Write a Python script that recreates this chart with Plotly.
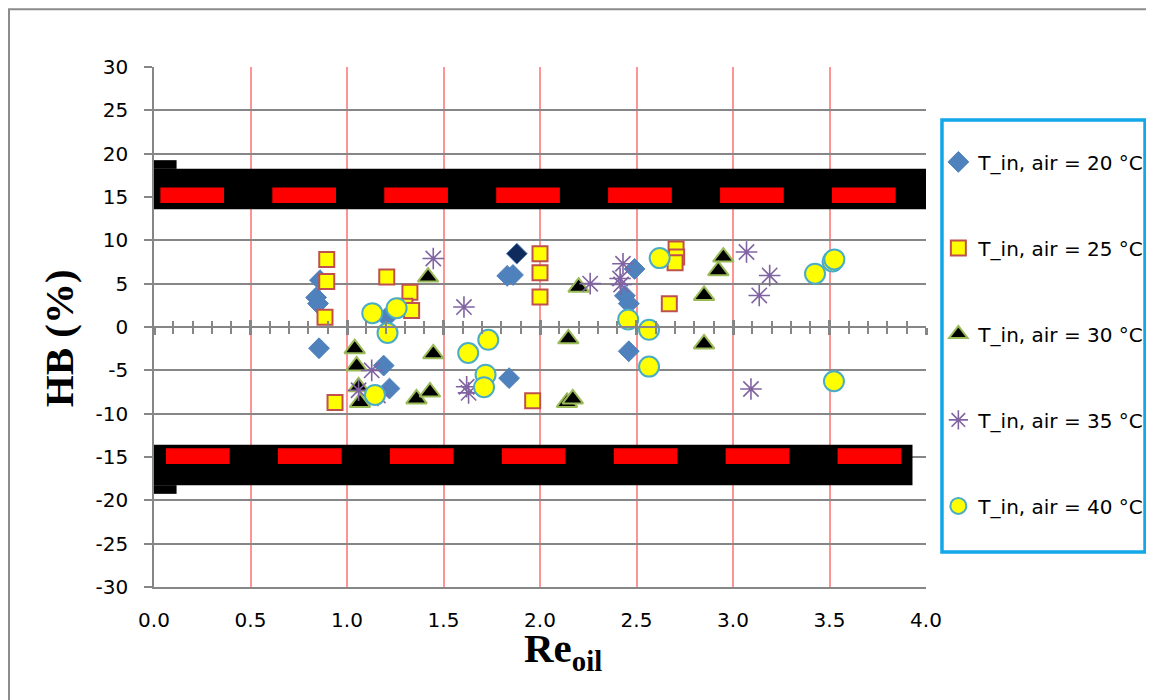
import plotly.graph_objects as go

# ---------------- data ----------------
re_20 = [0.86, 0.84, 0.85, 0.855, 1.205, 1.19, 1.22, 1.88, 1.83, 1.86, 1.84, 2.49, 2.44, 2.46, 2.46]
hb_20 = [5.4, 3.4, 2.7, -2.45, 1.1, -4.45, -7.1, 8.46, 5.9, 6.0, -5.9, 6.7, 3.6, 2.7, -2.8]

re_25 = [0.895, 0.895, 0.886, 0.938, 1.206, 1.326, 1.30, 1.335, 2.0, 2.0, 2.0, 1.962, 2.705, 2.708, 2.70, 2.67]
hb_25 = [7.8, 5.26, 1.13, -8.7, 5.76, 4.0, 2.4, 1.9, 8.46, 6.26, 3.45, -8.5, 9.0, 8.07, 7.4, 2.68]

re_30 = [1.04, 1.05, 1.06, 1.067, 1.42, 1.447, 1.36, 1.43, 2.20, 2.147, 2.14, 2.17, 2.95, 2.924, 2.85, 2.85]
hb_30 = [-2.5, -4.5, -6.9, -8.7, 5.76, -3.1, -8.3, -7.5, 4.6, -1.36, -8.7, -8.3, 8.07, 6.5, 3.64, -1.95]

re_35 = [1.447, 1.128, 1.06, 1.16, 1.606, 1.62, 1.63, 2.26, 2.43, 2.415, 2.42, 3.07, 3.19, 3.136, 3.093]
hb_35 = [7.9, -5.0, -7.3, -7.9, 2.3, -6.9, -7.6, 5.0, 7.3, 5.6, 4.9, 8.65, 5.95, 3.64, -7.15]

re_40 = [1.131, 1.257, 1.21, 1.145, 1.732, 1.628, 1.718, 1.71, 2.62, 2.457, 2.565, 2.565, 3.425, 3.516, 3.525, 3.523]
hb_40 = [1.6, 2.17, -0.68, -7.84, -1.48, -3.0, -5.5, -6.95, 7.95, 0.87, -0.32, -4.57, 6.15, 7.57, 7.8, -6.26]

series_names = ["T_in, air = 20 °C", "T_in, air = 25 °C", "T_in, air = 30 °C",
                "T_in, air = 35 °C", "T_in, air = 40 °C"]

# ±15 % error band levels
band_levels = [15, -15]
band_x_end = [4.02, 3.93]

x_ticks = [0.0, 0.5, 1.0, 1.5, 2.0, 2.5, 3.0, 3.5, 4.0]
y_ticks = [-30, -25, -20, -15, -10, -5, 0, 5, 10, 15, 20, 25, 30]

# ---------------- figure ----------------
GRAY = "#868686"
FONT = "DejaVu Sans"
fig = go.Figure()

highlight_index = 7
c20 = ["#4F81BD"] * len(re_20)
c20[highlight_index] = "#0F2A5C"

fig.add_trace(go.Scatter(x=re_20, y=hb_20, mode="markers", name=series_names[0],
                         legendgroup="a",
                         marker=dict(symbol="diamond", size=16, color=c20,
                                     line=dict(width=1, color="#4F81BD"))))
fig.add_trace(go.Scatter(x=re_25, y=hb_25, mode="markers", name=series_names[1],
                         legendgroup="b",
                         marker=dict(symbol="square", size=15, color="#FFFF00",
                                     line=dict(width=2, color="#C0504D"))))
fig.add_trace(go.Scatter(x=re_30, y=hb_30, mode="markers", name=series_names[2],
                         legendgroup="c",
                         marker=dict(symbol="triangle-up", size=18, color="#000000",
                                     line=dict(width=2, color="#9BBB59"))))
fig.add_trace(go.Scatter(x=re_35, y=hb_35, mode="markers", name=series_names[3],
                         legendgroup="d",
                         marker=dict(symbol="asterisk-open", size=18, color="#8064A2",
                                     line=dict(width=1.6, color="#8064A2"))))
fig.add_trace(go.Scatter(x=re_40, y=hb_40, mode="markers", name=series_names[4],
                         legendgroup="e",
                         marker=dict(symbol="circle", size=20, color="#FFFF00",
                                     line=dict(width=2, color="#4BACC6"))))

# dummy traces to instantiate the zero-line tick axes
for ax in ["x2", "x3"]:
    fig.add_trace(go.Scatter(x=[None], y=[None], xaxis=ax, yaxis="y",
                             showlegend=False, hoverinfo="skip"))

# ---------------- error bands (shapes on data axes) ----------------
shapes = []
for lvl, xend in zip(band_levels, band_x_end):
    s = 1 if lvl > 0 else -1
    inner = lvl - s * 1.4
    outer = lvl + s * 3.25
    shapes.append(dict(type="rect", xref="x", yref="y", x0=0, x1=xend,
                       y0=min(inner, outer), y1=max(inner, outer),
                       fillcolor="black", line=dict(width=0), layer="above"))
    tab = lvl + s * 4.25
    shapes.append(dict(type="rect", xref="x", yref="y", x0=0, x1=0.117,
                       y0=min(outer, tab), y1=max(outer, tab),
                       fillcolor="black", line=dict(width=0), layer="above"))
    dash_start = 0.033 if lvl > 0 else 0.062
    dash_c = lvl + (0.2 if lvl > 0 else 0.1)
    for i in range(7):
        x0 = dash_start + i * 0.58
        shapes.append(dict(type="rect", xref="x", yref="y", x0=x0, x1=x0 + 0.33,
                           y0=dash_c - 0.9, y1=dash_c + 0.9,
                           fillcolor="#FF0000", line=dict(width=0), layer="above"))

# outer chart frame
shapes.append(dict(type="rect", xref="paper", yref="paper",
                   x0=-0.1878, x1=1.31, y0=-0.25, y1=1.111,
                   line=dict(color="#8C8C8C", width=2), fillcolor="rgba(0,0,0,0)"))
# legend frame
shapes.append(dict(type="rect", xref="paper", yref="paper",
                   x0=1.0207, x1=1.2837, y0=0.0673, y1=0.898,
                   line=dict(color="#12A8E8", width=3.5), fillcolor="rgba(0,0,0,0)"))

annotations = [
    dict(text="<b>HB (%)</b>", xref="paper", yref="paper", x=-0.122, y=0.478,
         xanchor="center", yanchor="middle", textangle=-90, showarrow=False,
         font=dict(family="Liberation Serif", size=41, color="black")),
    dict(text="<b>Re<sub>oil</sub></b>", xref="paper", yref="paper", x=0.53, y=-0.07,
         xanchor="center", yanchor="top", showarrow=False,
         font=dict(family="Liberation Serif", size=41, color="black")),
]

zero_axis_common = dict(range=[0, 4], anchor="free", position=0.5, overlaying="x",
                        showticklabels=False, showgrid=False, zeroline=False,
                        tickmode="linear", tick0=0, dtick=0.5,
                        ticklen=7, tickwidth=2.5, tickcolor=GRAY)

# the page body has an 8px default margin: the figure is shifted to compensate
fig.update_layout(
    width=1154, height=700,
    margin=dict(l=146, r=236, t=59, b=121),
    paper_bgcolor="white", plot_bgcolor="white",
    font=dict(family=FONT, size=20, color="black"),
    showlegend=True,
    legend=dict(x=1.016, y=0.855, xanchor="left", yanchor="top",
                bgcolor="rgba(0,0,0,0)", borderwidth=0,
                font=dict(family=FONT, size=20, color="black"),
                tracegroupgap=57, traceorder="grouped"),
    xaxis=dict(range=[0, 4], tickmode="array", tickvals=x_ticks,
               ticktext=[f"{v:.1f}" for v in x_ticks],
               showgrid=True, gridcolor="rgba(255,60,60,0.55)", gridwidth=1.5,
               showline=True, linecolor=GRAY, linewidth=1.5, mirror=False,
               ticks="", zeroline=False, ticklabelstandoff=14,
               tickfont=dict(family=FONT, size=20)),
    xaxis2=dict(**zero_axis_common, showline=True, linecolor=GRAY, linewidth=2,
                ticks="outside",
                minor=dict(ticks="outside", dtick=0.1, tick0=0, ticklen=6,
                           tickwidth=1.5, tickcolor=GRAY, showgrid=False)),
    xaxis3=dict(**zero_axis_common, showline=False, ticks="inside",
                minor=dict(ticks="inside", dtick=0.1, tick0=0, ticklen=6,
                           tickwidth=1.5, tickcolor=GRAY, showgrid=False)),
    yaxis=dict(range=[-30, 30], tickmode="array", tickvals=y_ticks,
               ticktext=[str(v) for v in y_ticks],
               showgrid=True, gridcolor=GRAY, gridwidth=1.5,
               showline=True, linecolor=GRAY, linewidth=1.5,
               ticks="outside", ticklen=8, tickwidth=1.5, tickcolor=GRAY,
               zeroline=False, ticklabelstandoff=12,
               tickfont=dict(family=FONT, size=20)),
    shapes=shapes,
    annotations=annotations,
)

fig.write_html("out.html", config={"displayModeBar": False})
